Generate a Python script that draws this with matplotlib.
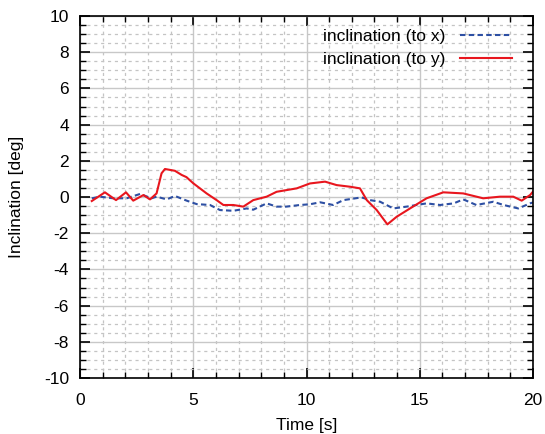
import matplotlib
matplotlib.use("Agg")
import matplotlib.pyplot as plt
from matplotlib.ticker import MultipleLocator

plt.rcParams['font.family'] = ['Liberation Sans', 'DejaVu Sans']
plt.rcParams['axes.unicode_minus'] = False

# inclination (to x)
t_x = [0.52, 0.88, 1.47, 2.06, 2.65, 3.16, 3.38, 3.83, 4.19, 4.71, 5.15, 5.74,
       6.18, 6.77, 7.36, 7.65, 8.24, 8.68, 9.1, 9.71, 10.15, 10.6, 11.18, 11.63,
       12.43, 12.8, 13.25, 13.83, 14.42, 15.3, 15.9, 16.5, 16.92, 17.5, 18.25,
       18.7, 19.35, 19.87, 20.0]
incl_x = [-0.07, 0.02, -0.07, -0.07, 0.17, -0.07, 0.02, -0.13, 0.06, -0.2, -0.39, -0.44,
          -0.72, -0.76, -0.63, -0.7, -0.35, -0.53, -0.53, -0.44, -0.4, -0.29, -0.44, -0.17,
          -0.02, -0.17, -0.26, -0.63, -0.53, -0.35, -0.44, -0.35, -0.13, -0.44, -0.26,
          -0.44, -0.63, -0.35, -0.3]

# inclination (to y)
t_y = [0.52, 1.1, 1.59, 2.03, 2.35, 2.8, 3.09, 3.38, 3.6, 3.75, 4.19, 4.49, 4.7, 5.0,
       5.59, 6.03, 6.33, 6.77, 7.21, 7.65, 8.24, 8.68, 9.57, 10.15, 10.82, 11.33,
       11.92, 12.36, 12.66, 13.1, 13.57, 13.98, 14.57, 15.3, 16.04, 16.92, 17.8,
       18.54, 19.13, 19.5, 19.87, 20.0]
incl_y = [-0.22, 0.26, -0.17, 0.26, -0.2, 0.11, -0.13, 0.2, 1.31, 1.55, 1.45, 1.22, 1.1, 0.76,
          0.2, -0.17, -0.44, -0.44, -0.53, -0.17, 0.02, 0.29, 0.48, 0.75, 0.85, 0.66,
          0.57, 0.48, -0.17, -0.72, -1.51, -1.09, -0.63, -0.07, 0.26, 0.2, -0.07,
          0.02, 0.02, -0.2, 0.11, 0.3]

fig = plt.figure(figsize=(5.45, 4.34), dpi=100)
ax = fig.add_axes([0.1468, 0.129, 0.8312, 0.834])

ax.plot(t_x, incl_x, color='#2d4fa3', lw=1.5, dashes=(2.6, 1.6), label='inclination (to x)')
ax.plot(t_y, incl_y, color='#e8161e', lw=1.5, label='inclination (to y)')

ax.set_xlim(0, 20)
ax.set_ylim(-10, 10)
ax.xaxis.set_major_locator(MultipleLocator(5))
ax.xaxis.set_minor_locator(MultipleLocator(1))
ax.yaxis.set_major_locator(MultipleLocator(2))
ax.yaxis.set_minor_locator(MultipleLocator(0.5))

ax.grid(which='major', color='#c8c8c8', lw=1.0, ls='-')
ax.grid(which='minor', color='#c4c4c4', lw=0.9, ls=(0, (2.5, 3)))
ax.set_axisbelow(True)

ax.tick_params(which='both', direction='in', top=True, right=True, labelsize=12.5, colors='black')
ax.tick_params(which='major', length=7, width=1.2)
ax.tick_params(which='minor', length=4, width=1.0)
ax.tick_params(axis='y', which='major', pad=8)
ax.tick_params(axis='x', which='major', pad=11)
for s in ax.spines.values():
    s.set_linewidth(1.2)

ax.set_xlabel('Time [s]', fontsize=12.5, labelpad=7)
ax.set_ylabel('Inclination [deg]', fontsize=12.5, labelpad=14)

ax.legend(loc='upper right', bbox_to_anchor=(0.976, 0.994), frameon=False, markerfirst=False,
          fontsize=12.5, handlelength=3.0, borderaxespad=0.2, labelspacing=0.45,
          handletextpad=0.8)

fig.savefig('out.png', dpi=100)
